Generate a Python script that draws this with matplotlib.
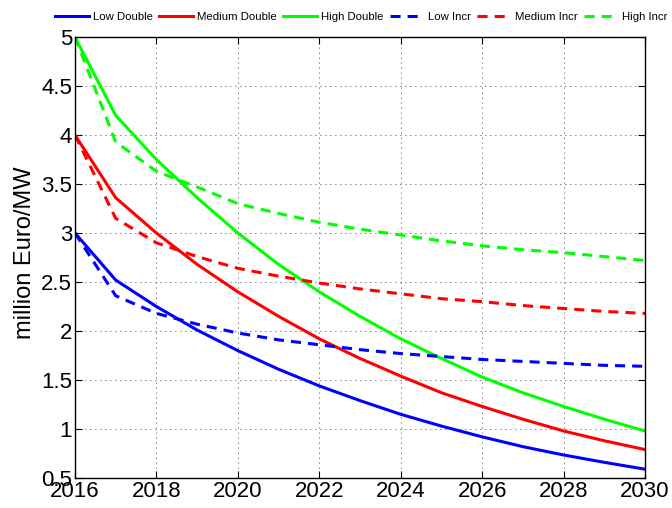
import matplotlib
matplotlib.use("Agg")
import matplotlib.pyplot as plt

plt.rcParams['font.family'] = ['Liberation Sans', 'DejaVu Sans']

years = list(range(2016, 2031))

low_double = [3.00, 2.52, 2.25, 2.01, 1.80, 1.61, 1.44, 1.29, 1.15, 1.03, 0.92, 0.82, 0.735, 0.66, 0.59]
medium_double = [4.00, 3.36, 3.00, 2.68, 2.40, 2.15, 1.92, 1.72, 1.54, 1.37, 1.23, 1.10, 0.98, 0.88, 0.79]
high_double = [5.00, 4.20, 3.75, 3.36, 3.00, 2.68, 2.40, 2.15, 1.92, 1.72, 1.53, 1.37, 1.23, 1.10, 0.98]
low_incr = [3.00, 2.36, 2.18, 2.07, 1.98, 1.91, 1.86, 1.81, 1.77, 1.74, 1.71, 1.69, 1.67, 1.65, 1.64]
medium_incr = [4.00, 3.15, 2.90, 2.76, 2.64, 2.56, 2.49, 2.43, 2.38, 2.33, 2.30, 2.26, 2.23, 2.20, 2.18]
high_incr = [5.00, 3.93, 3.63, 3.47, 3.30, 3.20, 3.11, 3.04, 2.98, 2.92, 2.87, 2.83, 2.80, 2.76, 2.72]

series = [
    ("Low Double", low_double, "#0000ff", "-"),
    ("Medium Double", medium_double, "#ff0000", "-"),
    ("High Double", high_double, "#00ff00", "-"),
    ("Low Incr", low_incr, "#0000ff", "--"),
    ("Medium Incr", medium_incr, "#ff0000", "--"),
    ("High Incr", high_incr, "#00ff00", "--"),
]

xticks = list(range(2016, 2031, 2))
yticks = [0.5, 1, 1.5, 2, 2.5, 3, 3.5, 4, 4.5, 5]
ytick_labels = ["0.5", "1", "1.5", "2", "2.5", "3", "3.5", "4", "4.5", "5"]

fig = plt.figure(figsize=(6.72, 5.08), dpi=100)
ax = fig.add_axes([0.1116, 0.059, 0.8484, 0.868])

handles = []
for name, vals, color, ls in series:
    if ls == "--":
        h, = ax.plot(years, vals, color=color, lw=2.2, linestyle=(0, (3.3, 2.3)), label=name)
    else:
        h, = ax.plot(years, vals, color=color, lw=2.2, label=name)
    handles.append(h)

ax.set_xlim(2016, 2030)
ax.set_ylim(0.5, 5)
ax.set_xticks(xticks)
ax.set_yticks(yticks)
ax.set_yticklabels(ytick_labels)
ax.tick_params(direction="in", length=5, width=0.8, labelsize=16, top=True, right=True, pad=2)
ax.grid(True, color="black", linestyle=(0, (1, 5)), linewidth=0.6)
for s in ax.spines.values():
    s.set_linewidth(1.0)
ax.set_ylabel("million Euro/MW", fontsize=17)
ax.yaxis.set_label_coords(-0.068, 0.512)

fig.legend(handles=handles, loc="center left", bbox_to_anchor=(0.082, 0.966), ncol=6,
           frameon=False, fontsize=8.2, handlelength=3.0, handletextpad=0.35,
           columnspacing=0.53, borderpad=0, borderaxespad=0)

fig.savefig("out.png", dpi=100)
